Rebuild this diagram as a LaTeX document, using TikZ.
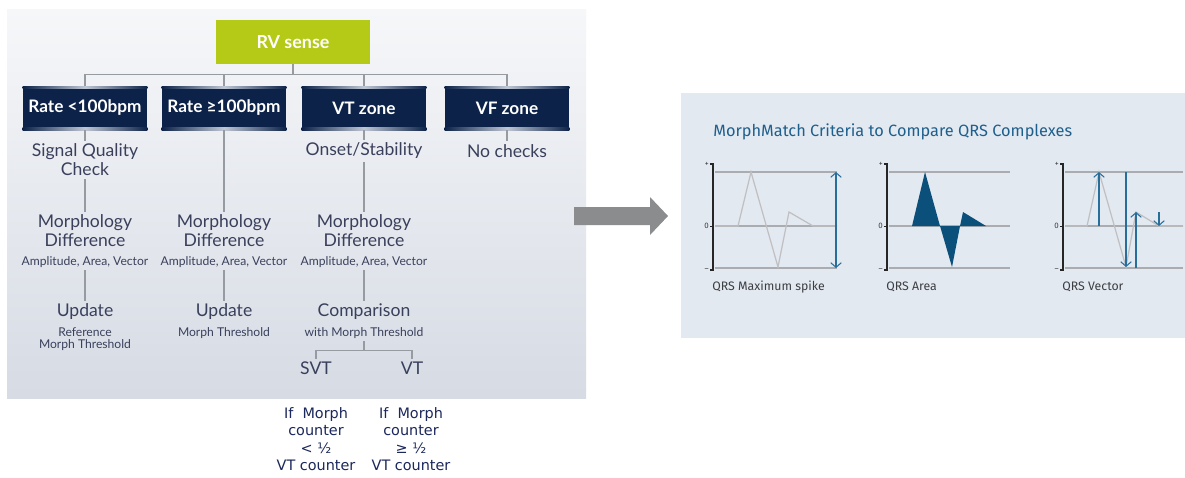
\documentclass[tikz,border=0pt]{standalone}
\usepackage{fontspec}
\setmainfont{Lato}
\newfontfamily\rulefont{DejaVu Sans}
\newfontfamily\critfont{Fira Sans}
\usetikzlibrary{positioning, arrows.meta}
\definecolor{rvgreen}{RGB}{180,202,22}
\definecolor{zonenavy}{RGB}{12,34,72}
\definecolor{zonegloss}{RGB}{190,198,212}
\definecolor{stepslate}{RGB}{58,64,92}
\definecolor{linkgray}{RGB}{150,155,162}
\definecolor{panelhi}{RGB}{246,247,249}
\definecolor{panello}{RGB}{214,219,228}
\definecolor{rulenavy}{RGB}{28,40,92}
\definecolor{arrowgray}{RGB}{138,140,142}
\definecolor{critbg}{RGB}{227,233,241}
\definecolor{critblue}{RGB}{31,95,140}
\definecolor{gridgray}{RGB}{170,172,176}
\definecolor{wavegray}{RGB}{192,192,194}
\definecolor{areablue}{RGB}{10,80,122}
\definecolor{vecblue}{RGB}{40,110,155}
\definecolor{labelgray}{RGB}{60,62,66}

\begin{document}
\begin{tikzpicture}[x=0.02cm, y=-0.02cm,
      rvbox/.style={rectangle, fill=rvgreen, text=white, minimum width=3.08cm, minimum height=0.88cm, font=\bfseries\fontsize{10.2}{12}\selectfont},
      zonebox/.style={rectangle, fill=zonenavy, text=white, minimum width=2.5cm, minimum height=0.88cm, font=\bfseries\fontsize{9.8}{11}\selectfont,
         path picture={
            \shade[left color=zonenavy, right color=zonenavy, middle color=zonegloss] (path picture bounding box.north west) rectangle ([yshift=-1.6pt]path picture bounding box.north east);
            \shade[left color=zonenavy, right color=zonenavy, middle color=zonegloss] ([yshift=1.6pt]path picture bounding box.south west) rectangle (path picture bounding box.south east);
         }},
      steptitle/.style={align=center, text=stepslate, inner sep=1.5pt, font=\fontsize{10}{10.8}\selectfont},
      stepnote/.style={align=center, text=stepslate, inner sep=1.5pt, font=\fontsize{6.9}{6.9}\selectfont},
      ruletext/.style={align=center, text=rulenavy, inner sep=1pt, font=\rulefont\fontsize{8.2}{9.85}\selectfont},
      link/.style={draw=linkgray, line width=0.7pt},
      chartlabel/.style={anchor=west, text=labelgray, inner sep=0pt, font=\critfont\fontsize{7}{8}\selectfont},
      ticklabel/.style={anchor=east, text=labelgray, inner sep=0.5pt, font=\critfont\fontsize{4.5}{5}\selectfont},
      vector/.style={draw=vecblue, line width=0.6pt, -{Straight Barb[length=2.6pt, width=6pt]}}
   ]
      \useasboundingbox (0,0) rectangle (1185,477);
      \fill[white] (0,0) rectangle (1185,477);

      % Left panel: decision tree
      \shade[top color=panelhi, bottom color=panello] (7,9) rectangle (586,398);

      \node (rv)   [rvbox]   at (293,42)  {RV sense};
      \node (slow) [zonebox] at (85,108)  {Rate <100bpm};
      \node (fast) [zonebox] at (224,108) {Rate ≥100bpm};
      \node (vtz)  [zonebox] at (364,108) {VT zone};
      \node (vfz)  [zonebox] at (507,108) {VF zone};

      % Column steps
      \node (quality) [steptitle] at (85,160)  {Signal Quality\\Check};
      \node (onset)   [steptitle] at (364,151) {Onset/Stability};
      \node (nochk)   [steptitle] at (507,151) {No checks};

      \node (morphA) [steptitle] at (85,231)  {Morphology\\Difference};
      \node (morphB) [steptitle] at (224,231) {Morphology\\Difference};
      \node (morphC) [steptitle] at (364,231) {Morphology\\Difference};
      \node (ampA) [stepnote] at (85,262)  {Amplitude, Area, Vector};
      \node (ampB) [stepnote] at (224,262) {Amplitude, Area, Vector};
      \node (ampC) [stepnote] at (364,262) {Amplitude, Area, Vector};

      \node (updA) [steptitle] at (85,312)  {Update};
      \node (refA) [stepnote]  at (85,339)  {Reference\\Morph Threshold};
      \node (updB) [steptitle] at (224,312) {Update};
      \node (thrB) [stepnote]  at (224,333) {Morph Threshold};
      \node (cmpC) [steptitle] at (364,312) {Comparison};
      \node (thrC) [stepnote]  at (364,333) {with Morph Threshold};

      \node (svt) [steptitle] at (316,368) {SVT};
      \node (vt)  [steptitle] at (412,368) {VT};

      % Counter rules under the panel
      \node (svtrule) [ruletext] at (316,439) {If\ \ Morph\\counter\\< ½\\VT counter};
      \node (vtrule)  [ruletext] at (411,439) {If\ \ Morph\\counter\\≥ ½\\VT counter};

      % Tree connectors
      \draw[link] (rv.south) -- ++(0,11);
      \draw[link] (slow.north) -- ++(0,-11) -| (vfz.north);
      \draw[link] (fast.north) -- ++(0,-11);
      \draw[link] (vtz.north) -- ++(0,-11);

      \draw[link] (slow) -- (quality);
      \draw[link] (quality) -- (morphA);
      \draw[link] (ampA) -- (updA);
      \draw[link] (fast) -- (morphB);
      \draw[link] (ampB) -- (updB);
      \draw[link] (vtz) -- (onset);
      \draw[link] (onset) -- (morphC);
      \draw[link] (ampC) -- (cmpC);
      \draw[link] (vfz) -- (nochk);

      % Comparison splits into SVT / VT
      \draw[link] (thrC.south) -- ++(0,9) coordinate (fork);
      \draw[link] (svt.north) |- (fork) -| (vt.north);

      % Block arrow between panels
      \fill[arrowgray] (574,207) -- (650,207) -- (650,197) -- (668,216) -- (650,235) -- (650,225) -- (574,225) -- cycle;

      % Right panel: MorphMatch criteria
      \fill[critbg] (681,93) rectangle (1185,338);
      \node (crit) [anchor=west, text=critblue, inner sep=0pt, font=\critfont\fontsize{9.3}{11}\selectfont] at (713,132) {MorphMatch Criteria to Compare QRS Complexes};

      \foreach \ax/\bx/\lbl in {713/837/QRS Maximum spike, 887/1010/QRS Area, 1063/1183/QRS Vector} {
         \draw[gridgray, line width=0.6pt] (\ax+2,172) -- (\bx,172) (\ax+2,226) -- (\bx,226) (\ax+2,268) -- (\bx,268);
         \draw[black!85, line width=0.6pt] (\ax-3,164) -- (\ax,164) -- (\ax,270) -- (\ax-3,270);
         \draw[black!85, line width=0.4pt] (\ax-3,226) -- (\ax,226);
         \node[ticklabel] at (\ax-3,164) {+};
         \node[ticklabel] at (\ax-3,226) {0};
         \node[ticklabel] at (\ax-3,270) {–};
         \node[chartlabel] at (\ax-1,287) {\lbl};
      }

      % QRS maximum spike
      \draw[wavegray, line width=0.7pt] (715,226) -- (738,226) -- (751,172) -- (778,267) -- (789,212) -- (813,226) -- (837,226);
      \draw[vector, {Straight Barb[length=2.6pt, width=6pt]}-{Straight Barb[length=2.6pt, width=6pt]}] (836,172) -- (836,268);

      % QRS area
      \fill[areablue] (912,226) -- (925,172) -- (940,226) -- cycle;
      \fill[areablue] (940,226) -- (952,267) -- (960,226) -- cycle;
      \fill[areablue] (960,226) -- (963,212) -- (986,226) -- cycle;

      % QRS vector
      \draw[wavegray, line width=0.7pt] (1065,226) -- (1087,226) -- (1099,172) -- (1126,267) -- (1136,212) -- (1159,226) -- (1183,226);
      \draw[vector] (1099,226) -- (1099,172);
      \draw[vector] (1126,172) -- (1126,267);
      \draw[vector] (1136,268) -- (1136,212);
      \draw[vector] (1159,212) -- (1159,226);
   \end{tikzpicture}
\end{document}
